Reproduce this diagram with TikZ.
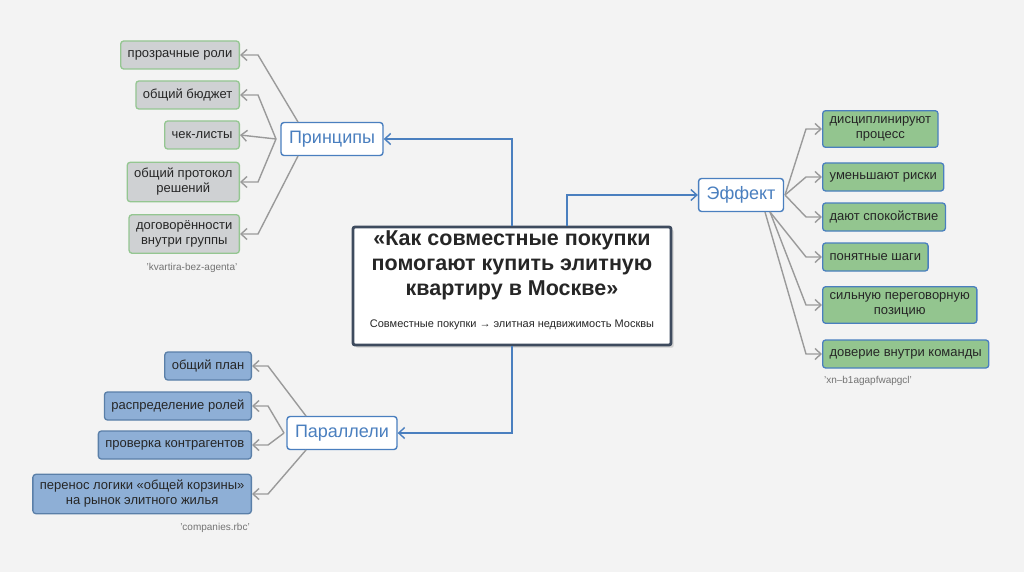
\documentclass[tikz,border=0pt]{standalone}
\usepackage{fontspec}
\setmainfont{Liberation Sans}
\usetikzlibrary{arrows.meta,shadows}
\definecolor{bg}{HTML}{F3F3F3}
\definecolor{blu}{HTML}{4A7FBF}
\definecolor{gline}{HTML}{9A9A9A}
\definecolor{cb}{HTML}{3E4B5E}
\definecolor{gfill}{HTML}{CFD1D3}
\definecolor{gbord}{HTML}{94C691}
\definecolor{bfill}{HTML}{8EAFD6}
\definecolor{bbord}{HTML}{5A7FA8}
\definecolor{efill}{HTML}{93C58F}
\begin{document}
\begin{tikzpicture}[x=1pt,y=-1pt,
  every node/.style={font=\fontsize{13}{15}\selectfont, text=black!85, align=center},
  leaf/.style={draw, rounded corners=3pt, line width=1.3pt, inner xsep=7pt, inner ysep=6pt, minimum height=28pt},
  lg/.style={leaf, fill=gfill, draw=gbord},
  lb/.style={leaf, fill=bfill, draw=bbord},
  le/.style={leaf, fill=efill, draw=blu},
  hub/.style={draw=blu, fill=white, rounded corners=3pt, line width=1.4pt, font=\fontsize{18}{20}\selectfont, text=blu, minimum height=33pt, inner xsep=8pt},
  lab/.style={font=\fontsize{10}{12}\selectfont, text=black!55},
  br/.style={draw=blu, line width=1.4pt, -{Straight Barb[length=6pt,width=11pt]}},
  gr/.style={draw=gline, line width=1.4pt, -{Straight Barb[length=6pt,width=11pt]}}]
\fill[bg] (0,0) rectangle (1024,572);
\useasboundingbox (0,0) rectangle (1024,572);
% center
\node[draw=cb, line width=2.8pt, fill=white, rounded corners=2pt, drop shadow={opacity=0.3}, minimum width=318pt, minimum height=118pt] (c) at (512,286) {};
\node[font=\bfseries\fontsize{21.5}{25}\selectfont, text=black!85] (t) at (512,265) {«Как совместные покупки\\помогают купить элитную\\квартиру в Москве»};
\node[font=\fontsize{11}{13}\selectfont] (st) at (512,325) {Совместные покупки → элитная недвижимость Москвы};
% hubs
\node[hub] (p) at (332,139) {Принципы};
\node[hub] (q) at (342,433) {Параллели};
\node[hub] (e) at (741,195) {Эффект};
\coordinate (c1) at (512,226);
\coordinate (c2) at (512,346);
\coordinate (c3) at (567,226);
\draw[br] (c1) |- (p.east);
\draw[br] (c2) |- (q.east);
\draw[br] (c3) |- (e.west);
% principles leaves
\node[lg, anchor=east] (p1) at (240,55) {прозрачные роли};
\node[lg, anchor=east] (p2) at (240,95) {общий бюджет};
\node[lg, anchor=east] (p3) at (240,135) {чек-листы};
\node[lg, anchor=east] (p4) at (240,182) {общий протокол\\решений};
\node[lg, anchor=east] (p5) at (240,234) {договорённости\\внутри группы};
\node[lab] (l1) at (192,268) {'kvartira-bez-agenta'};
\coordinate (pa) at (298,122);
\coordinate (pb) at (276,139);
\coordinate (pc) at (298,156);
\draw[gr] (pa) -- (258,55) -- (p1.east);
\draw[gr] (pb) -- (258,95) -- (p2.east);
\draw[gr] (pb) -- (p3.east);
\draw[gr] (pb) -- (258,182) -- (p4.east);
\draw[gr] (pc) -- (258,234) -- (p5.east);
% parallels leaves
\node[lb, anchor=east] (q1) at (252,366) {общий план};
\node[lb, anchor=east] (q2) at (252,406) {распределение ролей};
\node[lb, anchor=east] (q3) at (252,445) {проверка контрагентов};
\node[lb, anchor=east] (q4) at (252,494) {перенос логики «общей корзины»\\на рынок элитного жилья};
\node[lab] (l2) at (215,528) {'companies.rbc'};
\coordinate (qa) at (306,416);
\coordinate (qb) at (284,433);
\coordinate (qc) at (306,450);
\draw[gr] (qa) -- (268,366) -- (q1.east);
\draw[gr] (qb) -- (268,406) -- (q2.east);
\draw[gr] (qb) -- (268,445) -- (q3.east);
\draw[gr] (qc) -- (268,494) -- (q4.east);
% effect leaves
\node[le, anchor=west] (e1) at (822,129) {дисциплинируют\\процесс};
\node[le, anchor=west] (e2) at (822,177) {уменьшают риски};
\node[le, anchor=west] (e3) at (822,217) {дают спокойствие};
\node[le, anchor=west] (e4) at (822,257) {понятные шаги};
\node[le, anchor=west] (e5) at (822,305) {сильную переговорную\\позицию};
\node[le, anchor=west] (e6) at (822,354) {доверие внутри команды};
\node[lab] (l3) at (868,381) {'xn--b1agapfwapgcl'};
\coordinate (eb) at (785,195);
\coordinate (ec) at (765,212);
\coordinate (ed) at (770,212);
\draw[gr] (eb) -- (806,129) -- (e1.west);
\draw[gr] (eb) -- (806,177) -- (e2.west);
\draw[gr] (eb) -- (806,217) -- (e3.west);
\draw[gr] (ed) -- (806,257) -- (e4.west);
\draw[gr] (ed) -- (806,305) -- (e5.west);
\draw[gr] (ec) -- (806,354) -- (e6.west);
\end{tikzpicture}
\end{document}
